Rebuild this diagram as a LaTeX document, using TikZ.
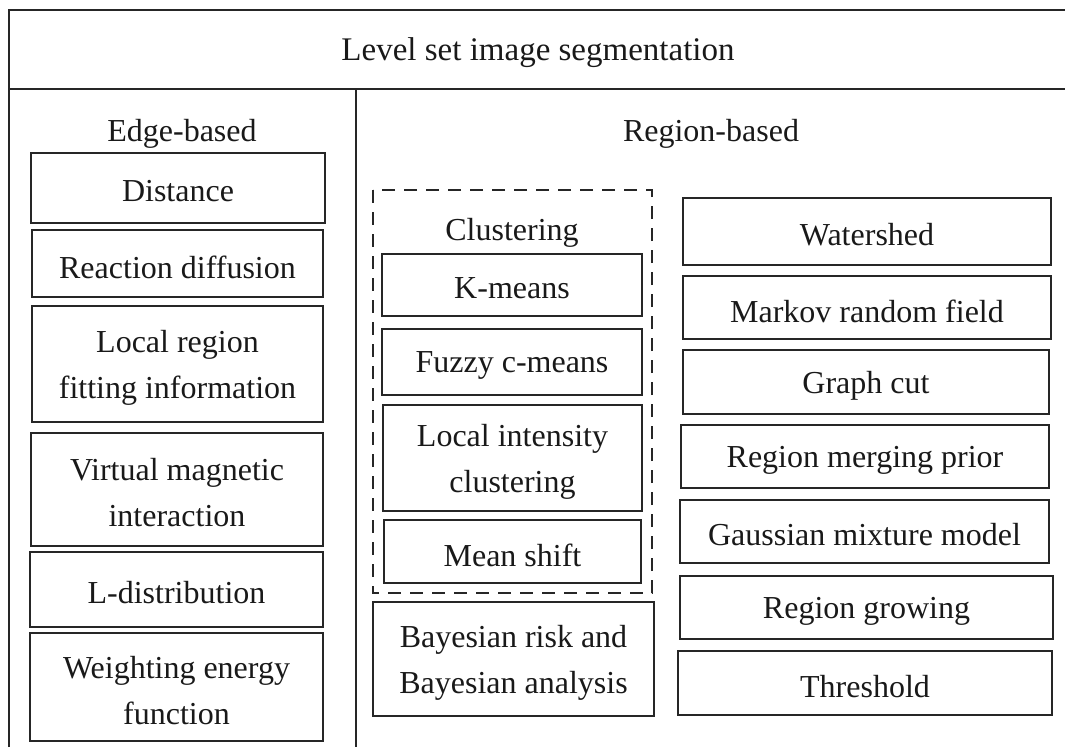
\documentclass[tikz,border=0pt]{standalone}
\usepackage{fontspec}
\setmainfont{Liberation Serif}
\begin{document}
\begin{tikzpicture}[x=1pt,y=-1pt,
  frameline/.style={line width=1.8pt, draw=black!85},
  box/.style={draw=black!85, line width=1.8pt, inner sep=0pt, outer sep=0pt},
  boxtext/.style={inner sep=0pt, align=center, yshift=-3.5pt,
    font=\fontsize{32}{46}\selectfont, text=black!90},
  lbl/.style={inner sep=0pt, yshift=-3.5pt, font=\fontsize{32}{46}\selectfont, text=black!90},
  dashbox/.style={draw=black!85, line width=2.2pt, dash pattern=on 13pt off 9pt}]
\useasboundingbox (0,0) rectangle (1065,747);
% frame
\draw[frameline] (9,747) -- (9,10) -- (1065,10);
\draw[frameline] (9,89) -- (1065,89);
\draw[frameline] (356,89) -- (356,747);
% headings
\node[lbl, font=\fontsize{33}{46}\selectfont] (title) at (538,49) {Level set image segmentation};
\node[lbl] (edge) at (182,130) {Edge-based};
\node[lbl] (region) at (711,130) {Region-based};
% left column
\node[box, minimum width=294, minimum height=70, label={[boxtext]center:Distance}] (dist) at (178,188) {};
\node[box, minimum width=291, minimum height=67, label={[boxtext]center:Reaction diffusion}] (react) at (177.5,263.5) {};
\node[box, minimum width=291, minimum height=116, label={[boxtext]center:{Local region\\fitting information}}] (lrfi) at (177.5,364) {};
\node[box, minimum width=292, minimum height=113, label={[boxtext]center:{Virtual magnetic\\interaction}}] (vmi) at (177,489.5) {};
\node[box, minimum width=293, minimum height=75, label={[boxtext]center:L-distribution}] (ldist) at (176.5,589.5) {};
\node[box, minimum width=293, minimum height=108, label={[boxtext]center:{Weighting energy\\function}}] (wef) at (176.5,687) {};
% middle column
\draw[dashbox] (373,190) rectangle (652,593);
\node[lbl] (clust) at (512,229) {Clustering};
\node[box, minimum width=260, minimum height=62, label={[boxtext]center:K-means}] (km) at (512,285) {};
\node[box, minimum width=260, minimum height=66, label={[boxtext]center:Fuzzy c-means}] (fcm) at (512,362) {};
\node[box, minimum width=259, minimum height=106, label={[boxtext]center:{Local intensity\\clustering}}] (lic) at (512.5,458) {};
\node[box, minimum width=257, minimum height=63, label={[boxtext]center:Mean shift}] (ms) at (512.5,551.5) {};
\node[box, minimum width=281, minimum height=114, label={[boxtext]center:{Bayesian risk and\\Bayesian analysis}}] (bay) at (513.5,659) {};
% right column
\node[box, minimum width=368, minimum height=67, label={[boxtext]center:Watershed}] (ws) at (867,231.5) {};
\node[box, minimum width=368, minimum height=63, label={[boxtext]center:Markov random field}] (mrf) at (867,307.5) {};
\node[box, minimum width=366, minimum height=64, label={[boxtext]center:Graph cut}] (gc) at (866,382) {};
\node[box, minimum width=368, minimum height=63, label={[boxtext]center:Region merging prior}] (rmp) at (865,456.5) {};
\node[box, minimum width=369, minimum height=63, label={[boxtext]center:Gaussian mixture model}] (gmm) at (864.5,531.5) {};
\node[box, minimum width=373, minimum height=63, label={[boxtext]center:Region growing}] (rg) at (866.5,607.5) {};
\node[box, minimum width=374, minimum height=64, label={[boxtext]center:Threshold}] (th) at (865,683) {};
\end{tikzpicture}
\end{document}
